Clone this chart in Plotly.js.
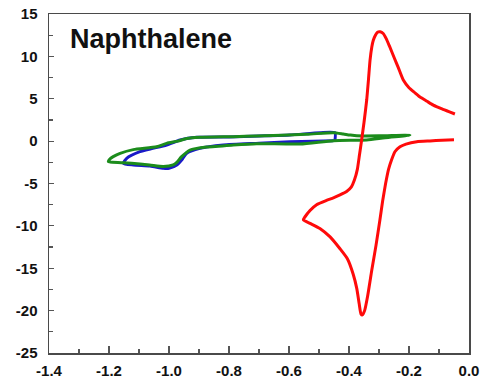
<!DOCTYPE html>
<html>
<head>
<meta charset="utf-8">
<script src="https://cdn.plot.ly/plotly-3.0.1.min.js"></script>
<style>html,body{margin:0;padding:0;background:#fff;}#chart{width:482px;height:380px;}</style>
</head>
<body>
<div id="chart"></div>
<script>
// Red CV (scan order)
var redX = [-0.05,-0.09,-0.13,-0.174,-0.21,-0.23,-0.247,-0.258,-0.268,-0.278,-0.288,-0.297,-0.31,-0.324,-0.338,-0.348,-0.355,-0.36,-0.366,-0.374,-0.386,-0.405,-0.43,-0.463,-0.497,-0.53,-0.552,-0.53,-0.508,-0.475,-0.452,-0.43,-0.408,-0.392,-0.382,-0.372,-0.365,-0.358,-0.35,-0.341,-0.335,-0.33,-0.324,-0.319,-0.312,-0.305,-0.296,-0.286,-0.276,-0.265,-0.25,-0.236,-0.219,-0.2,-0.18,-0.163,-0.14,-0.119,-0.09,-0.065,-0.047];
var redY = [0.15,0.1,0.02,-0.07,-0.35,-0.66,-1.25,-2.2,-3.3,-5.0,-7.1,-9.3,-12.3,-15.2,-18.3,-20.0,-20.5,-20.4,-19.2,-17.4,-15.7,-13.9,-12.7,-11.3,-10.3,-9.7,-9.3,-8.2,-7.5,-7.0,-6.7,-6.35,-5.95,-5.4,-4.6,-3.3,-1.6,0.1,2.2,4.85,7.3,9.5,11.1,11.9,12.5,12.85,12.9,12.7,12.1,11.2,9.9,8.7,7.2,6.3,5.7,5.2,4.7,4.25,3.8,3.45,3.2];
// Blue CV loop
var blueX = [-0.447,-0.447,-0.497,-0.597,-0.7,-0.8,-0.908,-0.963,-1.008,-1.06,-1.097,-1.141,-1.152,-1.119,-1.063,-1.019,-1.0,-0.974,-0.955,-0.941,-0.897,-0.819,-0.7,-0.597,-0.52,-0.452];
var blueY = [0.05,1.0,1.0,0.72,0.6,0.5,0.45,0.13,-0.46,-0.9,-1.25,-2.03,-2.62,-2.82,-2.94,-3.2,-3.2,-2.82,-2.1,-1.44,-0.85,-0.46,-0.25,-0.07,0.0,0.05];
// Green CV loop
var greenX = [-0.197,-0.28,-0.341,-0.452,-0.563,-0.708,-0.786,-0.874,-0.93,-0.958,-0.974,-0.986,-1.019,-1.06,-1.097,-1.152,-1.197,-1.202,-1.197,-1.186,-1.163,-1.119,-1.041,-1.008,-0.97,-0.941,-0.897,-0.786,-0.708,-0.541,-0.452,-0.419,-0.397,-0.374,-0.3,-0.197];
var greenY = [0.7,0.4,0.13,0.05,-0.34,-0.3,-0.46,-0.7,-1.05,-1.83,-2.5,-2.8,-3.0,-2.85,-2.7,-2.55,-2.45,-2.42,-2.1,-1.83,-1.44,-1.0,-0.66,-0.26,0.0,0.3,0.45,0.53,0.6,0.8,1.0,0.84,0.72,0.62,0.62,0.7];
var xTickVals = [-1.4,-1.2,-1.0,-0.8,-0.6,-0.4,-0.2,0.0];
var xTickText = ["-1.4","-1.2","-1.0","-0.8","-0.6","-0.4","-0.2","0.0"];
var yTickVals = [-25,-20,-15,-10,-5,0,5,10,15];
var yTickText = ["-25","-20","-15","-10","-5","0","5","10","15"];
var label = "Naphthalene";

function bold(arr) { return arr.map(function (t) { return '<b>' + t + '</b>'; }); }

var lw = 3;
var traces = [
  {x: blueX, y: blueY, mode: 'lines', line: {color: '#1a1ac8', width: lw, shape: 'spline', smoothing: 0.6}, hoverinfo: 'skip'},
  {x: greenX, y: greenY, mode: 'lines', line: {color: '#1c8c1c', width: lw, shape: 'spline', smoothing: 0.6}, hoverinfo: 'skip'},
  {x: redX, y: redY, mode: 'lines', line: {color: '#ff0a0a', width: lw, shape: 'spline', smoothing: 0.5}, hoverinfo: 'skip'}
];
var tickFont = {family: 'Liberation Sans, Arial, sans-serif', size: 15, color: '#111'};
var layout = {
  width: 482, height: 380,
  margin: {l: 49, r: 13, t: 14, b: 27, pad: 0},
  paper_bgcolor: '#fff', plot_bgcolor: '#fff',
  showlegend: false,
  xaxis: {
    range: [-1.4, 0.0], tickvals: xTickVals, ticktext: bold(xTickText),
    ticks: 'inside', ticklen: 7, tickwidth: 1.2, tickcolor: '#555',
    minor: {dtick: 0.1, tick0: -1.4, ticks: 'inside', ticklen: 4, tickwidth: 1.2, tickcolor: '#555', showgrid: false},
    showline: true, linecolor: '#4a4a4a', linewidth: 1.5, mirror: true,
    showgrid: false, zeroline: false,
    tickfont: tickFont, ticklabelstandoff: 3
  },
  yaxis: {
    range: [-25, 15], tickvals: yTickVals, ticktext: bold(yTickText),
    ticks: 'inside', ticklen: 5, tickwidth: 1.2, tickcolor: '#555',
    minor: {dtick: 2.5, tick0: -25, ticks: 'inside', ticklen: 4, tickwidth: 1.2, tickcolor: '#555', showgrid: false},
    showline: true, linecolor: '#4a4a4a', linewidth: 1.5, mirror: true,
    showgrid: false, zeroline: false,
    tickfont: tickFont, ticklabelstandoff: 7
  },
  annotations: [{
    text: '<b>' + label + '</b>', xref: 'paper', yref: 'paper',
    x: 0.045, y: 0.975, xanchor: 'left', yanchor: 'top', showarrow: false,
    font: {family: 'Liberation Sans, Arial, sans-serif', size: 27, color: '#111'}
  }]
};
Plotly.newPlot('chart', traces, layout, {staticPlot: true, displayModeBar: false});
</script>
</body>
</html>
